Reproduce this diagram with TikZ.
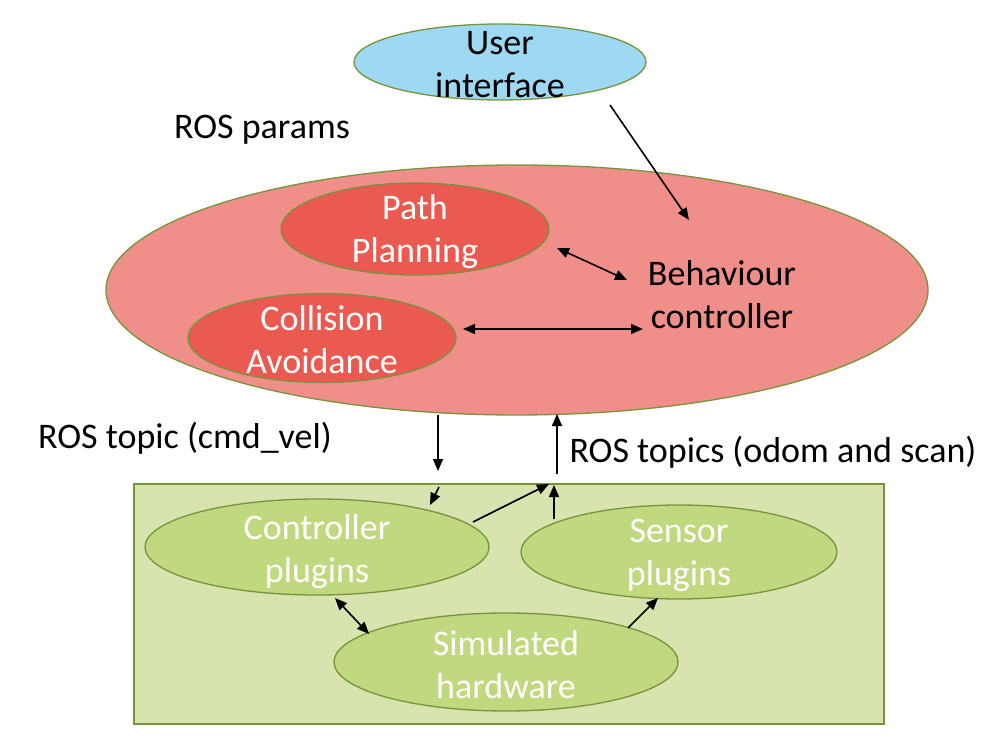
\documentclass[tikz,border=0pt]{standalone}
\usepackage{fontspec}
\setmainfont{Carlito}
\usetikzlibrary{shapes.geometric,arrows.meta}
\definecolor{olive}{HTML}{77933C}
\definecolor{uiblue}{HTML}{9DD9F3}
\definecolor{bigred}{HTML}{F08F8A}
\definecolor{inred}{HTML}{EB5A50}
\definecolor{boxgreen}{HTML}{D7E4B0}
\definecolor{elgreen}{HTML}{C0D87E}
\tikzset{
  ell/.style={ellipse, draw=olive, line width=1.3pt, inner sep=0pt},
  txt/.style={font=\fontsize{36}{43}\selectfont, align=center, inner sep=0pt},
  wtxt/.style={txt, text=white},
  arr/.style={line width=1.6pt, -{Triangle[length=12pt,width=10pt]}},
  darr/.style={line width=1.6pt, {Triangle[length=12pt,width=10pt]}-{Triangle[length=12pt,width=10pt]}},
}
\begin{document}
\begin{tikzpicture}[x=1pt,y=-1pt]
\useasboundingbox (0,0) rectangle (1006,738);
% user interface
\node[ell, fill=uiblue, minimum width=292pt, minimum height=76pt] (ui) at (500,62) {};
\node[txt] (uit) at (500,65) {User\\interface};
\node[txt] (params) at (262,130) {ROS params};
% big red ellipse
\node[ell, fill=bigred, minimum width=822pt, minimum height=250pt] (bc) at (517,290) {};
\node[ell, fill=inred, minimum width=268pt, minimum height=92pt] (pp) at (415,229) {};
\node[wtxt] (ppt) at (415,232) {Path\\Planning};
\node[ell, fill=inred, minimum width=268pt, minimum height=89pt] (ca) at (322,338) {};
\node[wtxt] (cat) at (322,340) {Collision\\Avoidance};
\node[txt] (bct) at (722,295) {Behaviour\\controller};
% labels
\node[txt] (cmd) at (185,438) {ROS topic (cmd\_vel)};
\node[txt] (odom) at (773,452) {ROS topics (odom and scan)};
% green box
\node[draw=olive, line width=1.3pt, fill=boxgreen, minimum width=750pt, minimum height=240pt, inner sep=0pt] (sim) at (509,604) {};
\node[ell, fill=elgreen, minimum width=344pt, minimum height=96pt] (cp) at (317,547) {};
\node[wtxt] (cpt) at (317,552) {Controller\\plugins};
\node[ell, fill=elgreen, minimum width=316pt, minimum height=94pt] (sp) at (679,552) {};
\node[wtxt] (spt) at (679,555) {Sensor\\plugins};
\node[ell, fill=elgreen, minimum width=344pt, minimum height=98pt] (sh) at (506,662) {};
\node[wtxt] (sht) at (506,665) {Simulated\\hardware};
% connector endpoints
\coordinate (a1) at (610,105);
\coordinate (a2) at (689,220);
\coordinate (b1) at (557,248);
\coordinate (b2) at (627,280);
\coordinate (c1) at (463,329);
\coordinate (c2) at (643,329);
\coordinate (d1) at (438,415);
\coordinate (d2) at (438,471);
\coordinate (e1) at (439,487);
\coordinate (e2) at (430,505);
\coordinate (f1) at (557,474);
\coordinate (f2) at (557,414);
\coordinate (g1) at (473,522);
\coordinate (g2) at (549,484);
\coordinate (h1) at (554,519);
\coordinate (h2) at (554,485);
\coordinate (i1) at (335,598);
\coordinate (i2) at (369,634);
\coordinate (j1) at (628,628);
\coordinate (j2) at (658,598);
\draw[arr] (a1) -- (a2);
\draw[darr] (b1) -- (b2);
\draw[darr] (c1) -- (c2);
\draw[arr] (d1) -- (d2);
\draw[arr] (e1) -- (e2);
\draw[arr] (f1) -- (f2);
\draw[arr] (g1) -- (g2);
\draw[arr] (h1) -- (h2);
\draw[darr] (i1) -- (i2);
\draw[arr] (j1) -- (j2);
\end{tikzpicture}
\end{document}
